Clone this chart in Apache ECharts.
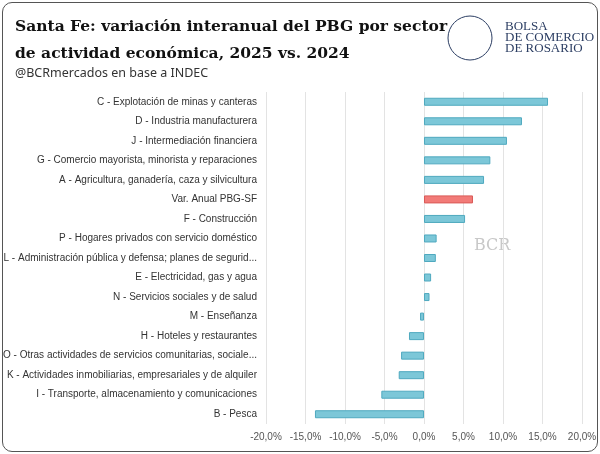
<!DOCTYPE html>
<html><head><meta charset="utf-8">
<script src="https://cdn.jsdelivr.net/npm/echarts@6/dist/echarts.min.js"></script>
<style>
html,body{margin:0;padding:0;background:#fff;}
#wrap{position:absolute;left:2px;top:2px;width:594px;height:448px;border:1px solid #555;border-radius:10px;background:#fff;}
#chart{position:absolute;left:0;top:0;width:600px;height:454px;}
</style></head>
<body>
<div id="wrap"></div>
<div id="chart"></div>
<script>
var categories = [
  'C - Explotación de minas y canteras',
  'D - Industria manufacturera',
  'J - Intermediación financiera',
  'G - Comercio mayorista, minorista y reparaciones',
  'A - Agricultura, ganadería, caza y silvicultura',
  'Var. Anual PBG-SF',
  'F - Construcción',
  'P - Hogares privados con servicio doméstico',
  'L - Administración pública y defensa; planes de seguridad social',
  'E - Electricidad, gas y agua',
  'N - Servicios sociales y de salud',
  'M - Enseñanza',
  'H - Hoteles y restaurantes',
  'O - Otras actividades de servicios comunitarias, sociales y personales',
  'K - Actividades inmobiliarias, empresariales y de alquiler',
  'I - Transporte, almacenamiento y comunicaciones',
  'B - Pesca'
];
var values = [15.7, 12.4, 10.5, 8.4, 7.6, 6.2, 5.2, 1.6, 1.5, 0.9, 0.7, -0.5, -1.9, -2.9, -3.2, -5.4, -13.8];
var highlight = 'Var. Anual PBG-SF';

var chart = echarts.init(document.getElementById('chart'));
chart.setOption({
  animation: false,
  title: [
    {text: 'Santa Fe: variación interanual del PBG por sector\nde actividad económica, 2025 vs. 2024', left: 10, top: 8,
     textStyle: {fontFamily: 'DejaVu Serif', fontSize: 15.5, fontWeight: 'bold', color: '#111', lineHeight: 27}},
    {text: '@BCRmercados en base a INDEC', left: 10, top: 62,
     textStyle: {fontFamily: 'Noto Sans', fontSize: 12.5, fontWeight: 'normal', color: '#333'}}
  ],
  graphic: [
    {type: 'circle', shape: {cx: 470, cy: 38, r: 22}, style: {fill: 'none', stroke: '#2c3e63', lineWidth: 1}},
    {type: 'text', left: 505, top: 20, style: {text: 'BOLSA\nDE COMERCIO\nDE ROSARIO', fill: '#2c3e63', font: '13px Liberation Serif', lineHeight: 11}},
    {type: 'text', left: 474, top: 238, style: {text: 'BCR', fill: '#c8c8c8', font: '16px DejaVu Serif'}}
  ],
  grid: {left: 263, right: 18, top: 92, bottom: 30},
  xAxis: {
    type: 'value', min: -20, max: 20, interval: 5,
    axisLabel: {formatter: function(v){return v.toFixed(1).replace('.', ',') + '%';}, fontSize: 10, color: '#555'},
    splitLine: {lineStyle: {color: '#e3e3e3'}},
    axisLine: {show: false}
  },
  yAxis: {
    type: 'category', inverse: true, data: categories,
    axisLine: {show: false}, axisTick: {show: false},
    axisLabel: {fontSize: 10, color: '#333', width: 258, overflow: 'truncate', margin: 9}
  },
  series: [{
    type: 'bar', barWidth: 8,
    data: values.map(function(v, i){
      var hl = categories[i] === highlight;
      return {value: v, itemStyle: {color: hl ? '#f27b78' : '#7cc7d8', borderColor: hl ? '#d95a57' : '#4fa9bf', borderWidth: 1}};
    })
  }]
});
</script>
</body></html>
